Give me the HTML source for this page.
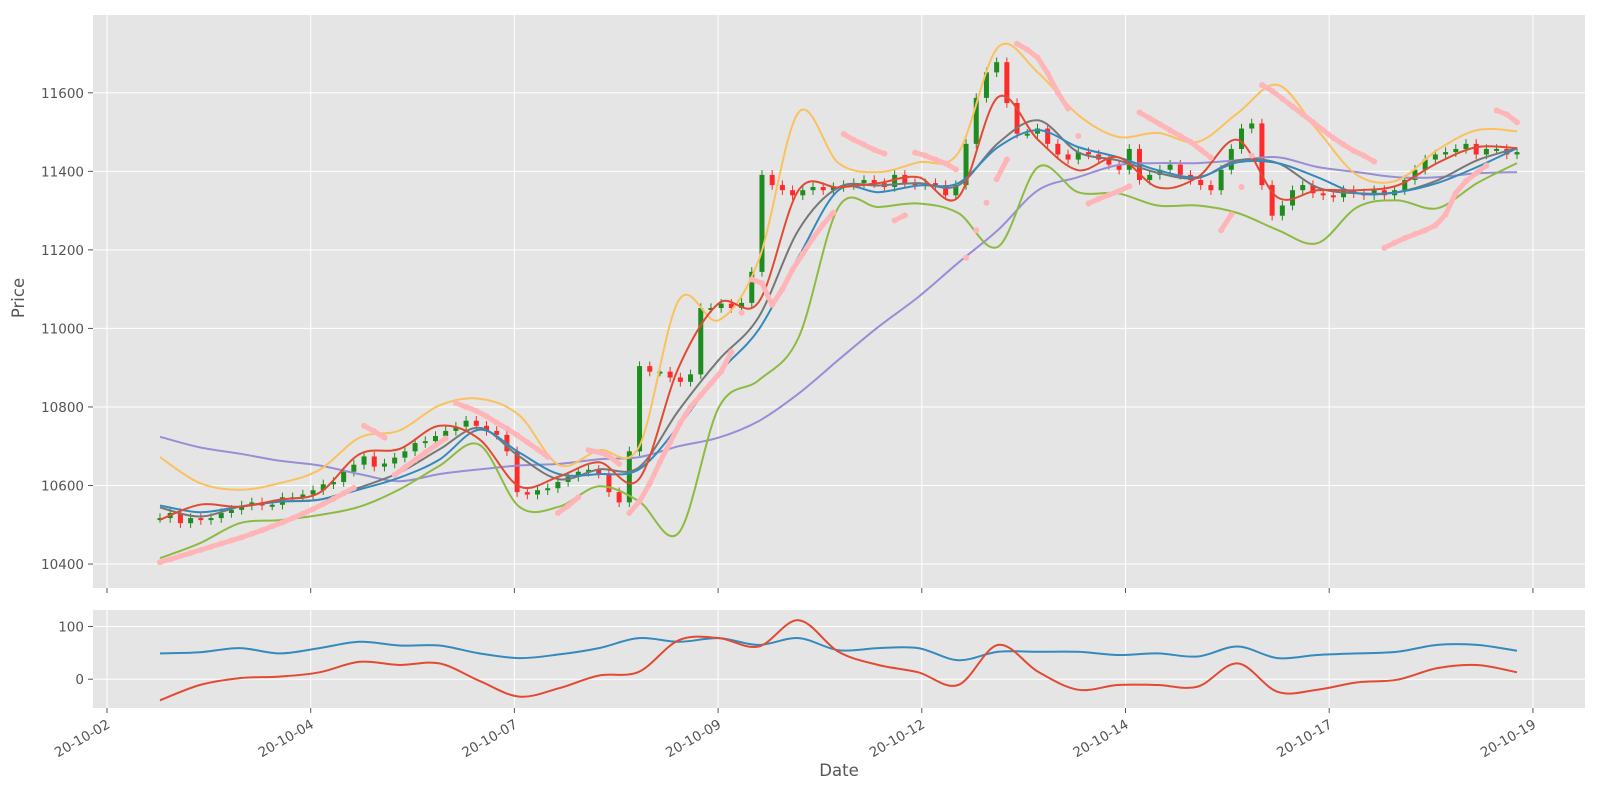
<!DOCTYPE html>
<html><head><meta charset="utf-8"><style>
html,body{margin:0;padding:0;background:#fff;}
svg{display:block;font-family:"DejaVu Sans","Liberation Sans",sans-serif;}
</style></head><body>
<svg id="chart" width="1600" height="800" viewBox="0 0 1600 800" xmlns="http://www.w3.org/2000/svg">
<rect x="93" y="15" width="1492" height="573" fill="#E5E5E5"/>
<rect x="93" y="610" width="1492" height="98" fill="#E5E5E5"/>
<g id="grid"></g>
<g id="candles"></g>
<g id="lines"></g>
<g id="sar"></g>
<g id="low"></g>
<g id="axes"></g>
<text x="24" y="298" transform="rotate(-90 24 298)" text-anchor="middle" font-size="16.5" fill="#555">Price</text>
<text x="839" y="776" text-anchor="middle" font-size="16.5" fill="#555">Date</text>
</svg>
<script>
const closes=[10517,10530,10504,10517,10512,10517,10530,10538,10549,10557,
10549,10551,10570,10570,10577,10588,10603,10609,10635,10653,
10674,10648,10656,10671,10687,10708,10713,10726,10739,10750,
10765,10752,10739,10729,10687,10583,10577,10588,10593,10609,
10622,10635,10640,10630,10583,10557,10687,10904,10890,10890,
10875,10864,10883,11052,11052,11063,11052,11065,11144,11391,
11365,11352,11339,11352,11360,11352,11360,11365,11370,11378,
11370,11360,11391,11370,11365,11370,11365,11339,11365,11470,
11587,11652,11678,11574,11496,11496,11509,11470,11443,11430,
11449,11443,11430,11417,11404,11457,11378,11391,11404,11417,
11391,11378,11365,11352,11404,11457,11509,11522,11365,11287,
11313,11352,11365,11344,11339,11334,11352,11344,11339,11352,
11339,11352,11378,11404,11430,11443,11449,11457,11470,11443,
11457,11457,11443,11449];
const emaFast=[10513,10551,10546,10564,10582,10680,10693,10752,10718,10598,10623,10659,10616,10902,11064,11067,11352,11359,11370,11385,11334,11589,11480,11403,11436,11359,11385,11480,11334,11352,11352,11364,11421,11462,11459];
const smaMid=[10549,10532,10546,10559,10564,10590,10620,10666,10742,10684,10629,10629,10641,10752,10887,10997,11182,11352,11347,11364,11370,11462,11505,11462,11436,11403,11385,11423,11421,11385,11344,11347,11370,11411,11459];
const emaSlow=[10544,10521,10546,10559,10564,10595,10633,10692,10747,10674,10616,10641,10646,10792,10920,11029,11251,11359,11364,11370,11364,11472,11530,11449,11428,11396,11383,11428,11421,11359,11344,11347,11377,11428,11459];
const bbUpper=[10672,10606,10589,10606,10640,10722,10740,10804,10821,10779,10652,10690,10698,11072,11021,11174,11550,11421,11398,11423,11447,11716,11651,11544,11488,11498,11475,11548,11620,11505,11390,11377,11454,11505,11502];
const bbLower=[10415,10453,10504,10512,10525,10546,10590,10650,10704,10546,10546,10598,10560,10480,10799,10868,10977,11309,11309,11318,11294,11208,11411,11347,11344,11313,11313,11294,11251,11217,11309,11326,11306,11370,11421];
const smaLong=[10724,10697,10681,10663,10651,10629,10611,10629,10641,10651,10655,10667,10672,10700,10722,10764,10834,10920,11004,11080,11167,11251,11352,11385,11416,11421,11421,11428,11436,11411,11398,11385,11385,11395,11398];
const sarValues=[10405,10412,10420,10428,10436,10444,10452,10460,10468,10477,10486,10496,10506,10517,10528,10540,10553,10566,10580,10594,
10752,10738,10722,10627,10646,10665,10684,10702,10720,10810,10800,10790,10776,10760,10745,10728,10710,10692,10673,
10530,10548,10570,10690,10685,10675,10655,10530,10560,10605,10660,10710,10760,10800,10830,10860,10890,10940,11040,11125,11115,
11060,11100,11150,11190,11230,11265,11295,11495,11480,11468,11455,11445,11275,11288,11448,11440,11430,11420,11405,
11180,11250,11320,11380,11430,11725,11710,11690,11650,11600,11560,11490,11318,11330,11340,11350,11362,
11550,11535,11520,11505,11490,11475,11455,11435,11250,11290,11360,11440,11620,11605,11585,11565,11545,11525,11505,11485,11468,11452,11440,11425,
11205,11218,11230,11240,11250,11262,11290,11345,11375,11395,11415,11555,11545,11525];
const rsiValues=[49,51,59,49,59,71,64,64,49,40,47,59,78,71,78,65,78,55,59,59,36,52,52,52,46,49,43,62,40,46,49,52,65,65,54];
const macdValues=[-40,-11,2,5,13,33,27,30,-3,-33,-17,7,14,74,78,62,112,52,27,13,-11,65,14,-20,-11,-11,-14,30,-24,-20,-6,-1,21,27,13];
const priceTicks=[10400,10600,10800,11000,11200,11400,11600];
const lowTicks=[0,100];
const dateLabels=['20-10-02','20-10-04','20-10-07','20-10-09','20-10-12','20-10-14','20-10-17','20-10-19'];

const NS='http://www.w3.org/2000/svg';
const X0=160,X1=1517;
function xIdx(i,n){return X0+i*(X1-X0)/(n-1);}
function yMain(p){return 92.8+(11600-p)*0.3927;}
function yLow(v){return 679.2-v*0.527;}
function xTick(k){return 107+k*203.7;}
function mk(tag,attrs,parent){const e=document.createElementNS(NS,tag);for(const k in attrs)e.setAttribute(k,attrs[k]);parent.appendChild(e);return e;}
const grid=document.getElementById('grid'),axes=document.getElementById('axes');

priceTicks.forEach(p=>{const y=yMain(p);
 const g=mk('line',{x1:93,x2:1585,y1:y,y2:y,stroke:'#fff','stroke-width':1},grid);
 
 
 mk('line',{x1:88,x2:93,y1:y,y2:y,stroke:'#555'},axes);
 const t=mk('text',{x:84,y:y+5,'text-anchor':'end','font-size':13.5,fill:'#555'},axes);t.textContent=p;
 
 });
lowTicks.forEach(v=>{const y=yLow(v);
 const g=mk('line',{x1:93,x2:1585,y1:y,y2:y,stroke:'#fff','stroke-width':1},grid);
 
 
 mk('line',{x1:88,x2:93,y1:y,y2:y,stroke:'#555'},axes);
 const t=mk('text',{x:84,y:y+5,'text-anchor':'end','font-size':13.5,fill:'#555'},axes);t.textContent=v;
 
 });
dateLabels.forEach((d,k)=>{const x=xTick(k);
 [[15,588],[610,708]].forEach(r=>{const g=mk('line',{x1:x,x2:x,y1:r[0],y2:r[1],stroke:'#fff'},grid);
  
  });
 mk('line',{x1:x,x2:x,y1:588,y2:593,stroke:'#555'},axes);
 mk('line',{x1:x,x2:x,y1:708,y2:713,stroke:'#555'},axes);
 const t=mk('text',{x:x+4,y:727,'text-anchor':'end','font-size':13.5,fill:'#555',transform:'rotate(-30 '+(x+4)+' 727)'},axes);t.textContent=d;
 
 });

const cg=document.getElementById('candles');
closes.forEach((c,i)=>{const o=i?closes[i-1]:c;const x=xIdx(i,closes.length);
 const up=c>=o;const col=up?'#1E8C1E':'#FF2A2A';
 const hi=Math.max(o,c)+12,lo=Math.min(o,c)-12;
 const w=mk('line',{x1:x,x2:x,y1:yMain(hi),y2:yMain(lo),stroke:col,'stroke-width':1},cg);
 
 
 const top=yMain(Math.max(o,c)),bot=yMain(Math.min(o,c));
 const b=mk('rect',{x:x-2.5,y:top,width:5,height:Math.max(2,bot-top),fill:col},cg);
 
 });

const lg=document.getElementById('lines');
function smoothPath(pts){let d='M'+pts[0][0].toFixed(1)+','+pts[0][1].toFixed(1);
 for(let i=0;i<pts.length-1;i++){const p0=pts[Math.max(0,i-1)],p1=pts[i],p2=pts[i+1],p3=pts[Math.min(pts.length-1,i+2)];
  const c1x=p1[0]+(p2[0]-p0[0])/6,c1y=p1[1]+(p2[1]-p0[1])/6,c2x=p2[0]-(p3[0]-p1[0])/6,c2y=p2[1]-(p3[1]-p1[1])/6;
  d+=' C'+c1x.toFixed(1)+','+c1y.toFixed(1)+' '+c2x.toFixed(1)+','+c2y.toFixed(1)+' '+p2[0].toFixed(1)+','+p2[1].toFixed(1);}
 return d;}
function poly(arr,yf,col,name,parent,w){const n=arr.length;
 const pts=arr.map((v,i)=>[xIdx(i,n),yf(v)]);
 const p=mk('path',{d:smoothPath(pts),fill:'none',stroke:col,'stroke-width':w||2,'stroke-linejoin':'round'},parent);
 
 }
poly(smaLong,yMain,'#988ED5','long-moving-average',lg);
poly(bbUpper,yMain,'#FBC15E','bollinger-upper',lg);
poly(bbLower,yMain,'#8EBA42','bollinger-lower',lg);
poly(emaSlow,yMain,'#777777','slow-moving-average',lg);
poly(smaMid,yMain,'#348ABD','mid-moving-average',lg);
poly(emaFast,yMain,'#E24A33','fast-moving-average',lg);

const sg=document.getElementById('sar');
sarValues.forEach((v,i)=>{const n=sarValues.length;const x=xIdx(i,n),y=yMain(v);
 if(i<n-1){const v2=sarValues[i+1];if(Math.abs(v2-v)<60){const l=mk('line',{x1:x,y1:y,x2:xIdx(i+1,n),y2:yMain(v2),stroke:'#FFB5B8','stroke-width':5,'stroke-linecap':'round'},sg);
  
  }}
 const c=mk('circle',{cx:x,cy:y,r:3,fill:'#FFB5B8'},sg);
 
 });

const low=document.getElementById('low');
poly(rsiValues,yLow,'#348ABD','rsi-line',low);
poly(macdValues,yLow,'#E24A33','momentum-line',low);
</script>
</body></html>
